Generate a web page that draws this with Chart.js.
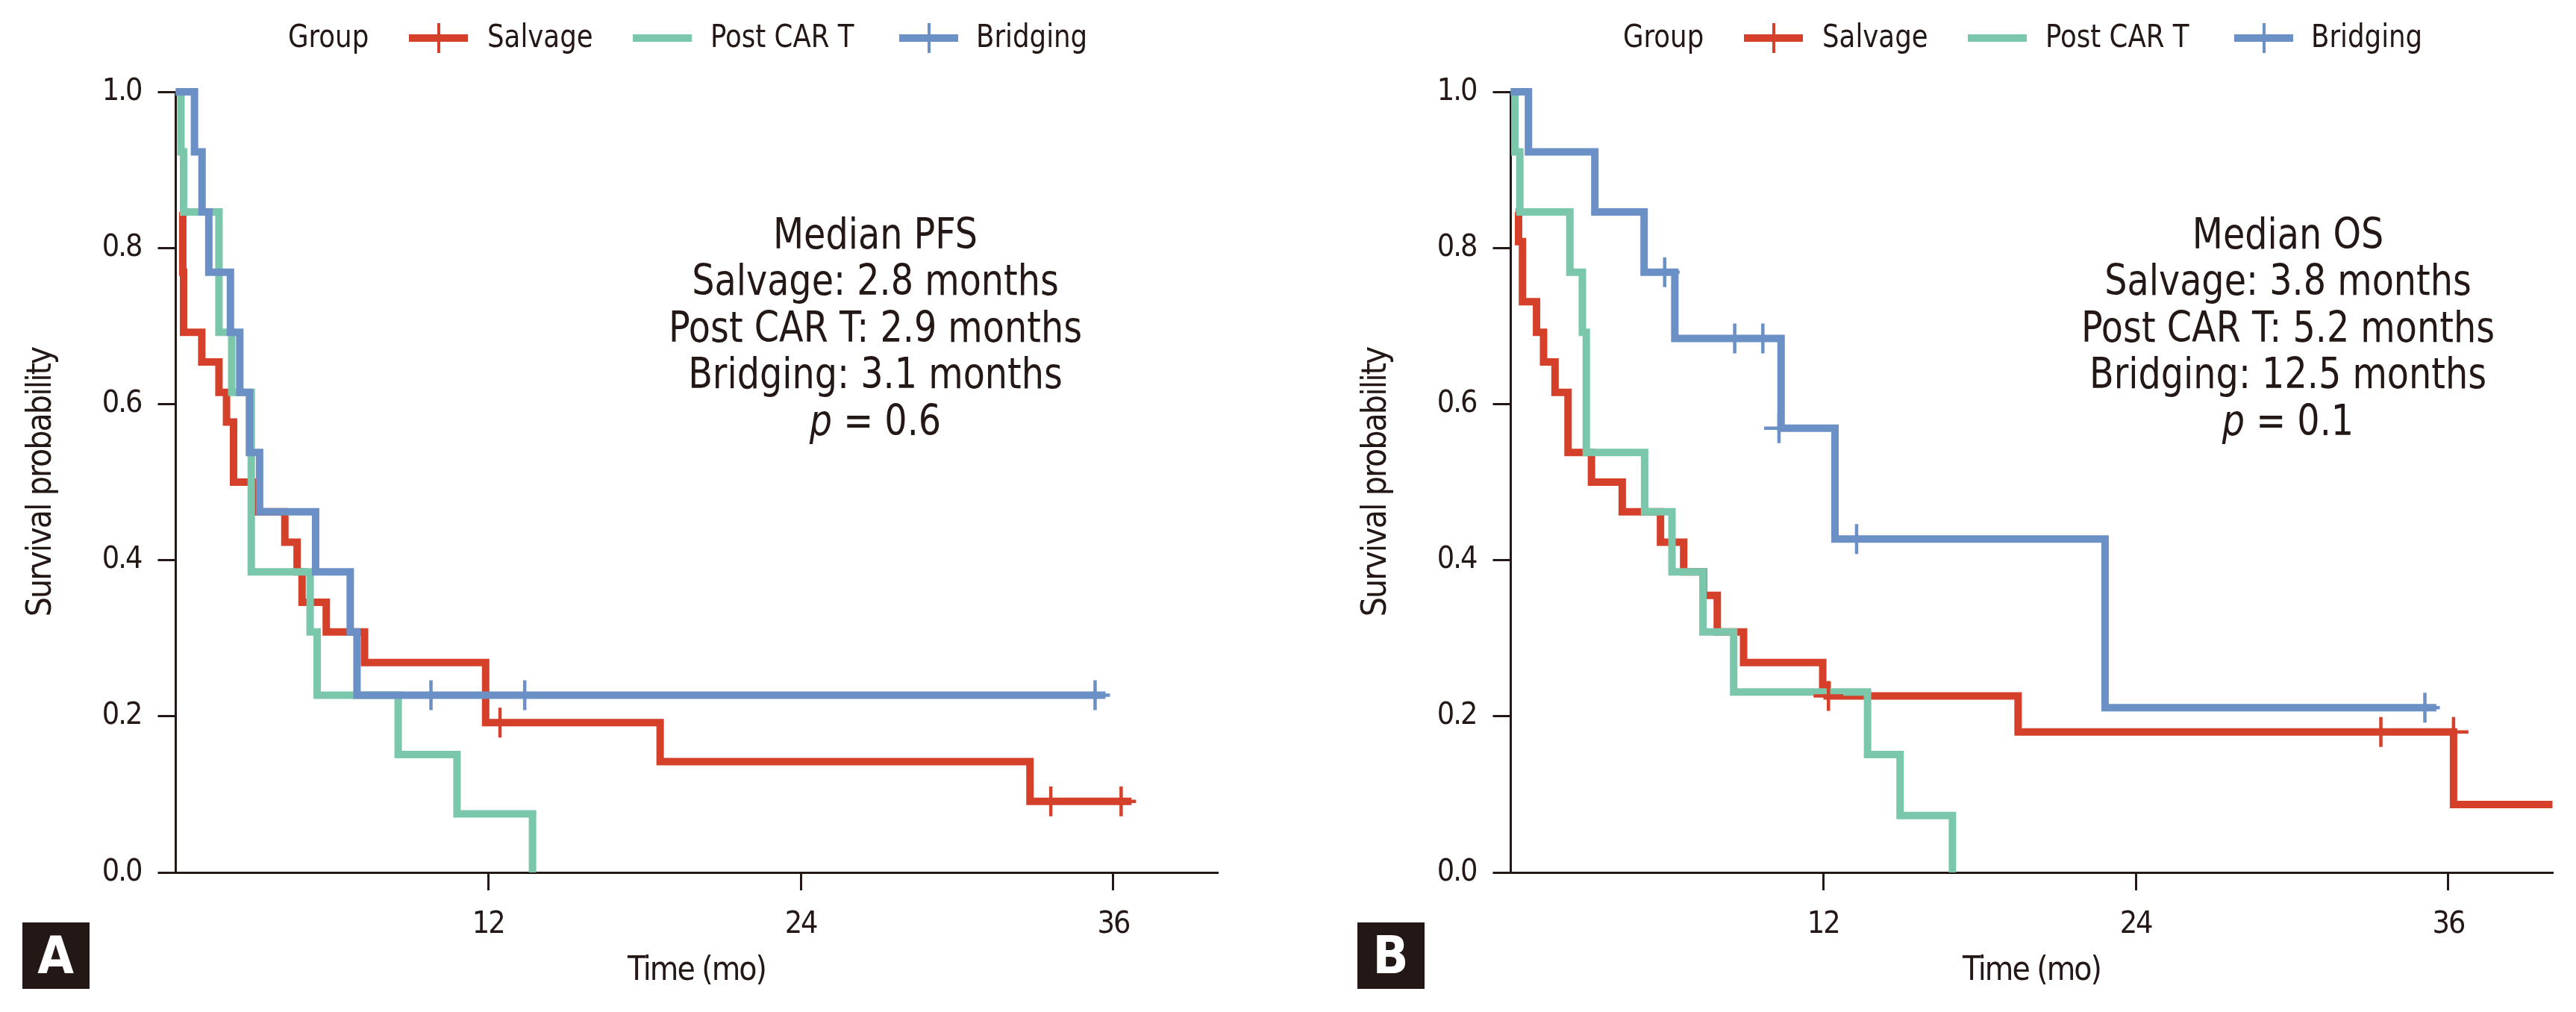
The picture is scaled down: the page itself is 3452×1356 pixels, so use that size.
<!DOCTYPE html>
<html>
<head>
<meta charset="utf-8">
<script src="https://cdn.jsdelivr.net/npm/chart.js@4.4.1/dist/chart.umd.min.js"></script>
<style>
html, body { margin: 0; padding: 0; background: #ffffff; }
#page { position: relative; width: 3452px; height: 1356px; overflow: hidden; background: #ffffff;
  font-family: "DejaVu Sans Condensed", "Liberation Sans Narrow", "Arial Narrow", sans-serif; color: #231815; }
.panel { position: absolute; top: 0; height: 1356px; }
.txt { position: absolute; white-space: nowrap; line-height: 1; }
.sw { position: absolute; }
.lab { position: absolute; background: #231815; color: #ffffff; font-weight: bold; text-align: center; }
</style>
</head>
<body>
<div id="page">
  <canvas id="chartA" class="panel" width="1700" height="1356" style="left:0px;width:1700px;height:1356px;"></canvas>
  <canvas id="chartB" class="panel" width="1663" height="1356" style="left:1789px;width:1663px;height:1356px;"></canvas>
</div>
<script>
// ---------- data ----------
const groups = ['Salvage', 'Post CAR T', 'Bridging'];
const xTicks = [12, 24, 36];
const yTicks = [0, 0.2, 0.4, 0.6, 0.8, 1.0];
const yTickLabels = ['0.0', '0.2', '0.4', '0.6', '0.8', '1.0'];

// Panel A: progression-free survival (time in months, survival probability)
const pfsSalvageTime = [0.25, 0.27, 0.3, 1.0, 1.66, 1.95, 2.22, 3.0, 4.19, 4.66, 4.85, 5.78, 7.25, 11.9, 18.6, 32.8, 36.7];
const pfsSalvageSurv = [0.846, 0.769, 0.692, 0.654, 0.615, 0.577, 0.5, 0.462, 0.423, 0.385, 0.346, 0.308, 0.269, 0.192, 0.142, 0.091, 0.091];
const pfsPostTime = [0, 0.2, 0.3, 1.66, 2.15, 2.9, 5.16, 5.43, 8.54, 10.8, 13.7];
const pfsPostSurv = [1.0, 0.923, 0.846, 0.692, 0.615, 0.385, 0.308, 0.227, 0.151, 0.075, 0.0];
const pfsBridgingTime = [0, 0.72, 1.01, 1.27, 2.1, 2.46, 2.83, 3.22, 5.37, 6.7, 6.96, 35.7];
const pfsBridgingSurv = [1.0, 0.923, 0.846, 0.769, 0.692, 0.615, 0.538, 0.462, 0.385, 0.308, 0.227, 0.227];
const pfsSalvageCensorTime = [12.45, 33.6, 36.3];
const pfsSalvageCensorSurv = [0.192, 0.091, 0.091];
const pfsBridgingCensorTime = [9.8, 13.4, 35.3];
const pfsBridgingCensorSurv = [0.227, 0.227, 0.227];

// Panel B: overall survival
const osSalvageTime = [0.19, 0.3, 0.45, 0.99, 1.26, 1.7, 2.2, 3.1, 4.28, 5.75, 6.64, 7.4, 7.93, 8.94, 11.98, 12.15, 19.48, 36.2, 40];
const osSalvageSurv = [0.846, 0.808, 0.731, 0.692, 0.654, 0.615, 0.538, 0.5, 0.462, 0.423, 0.385, 0.355, 0.308, 0.269, 0.24, 0.226, 0.18, 0.087, 0.087];
const osPostTime = [0, 0.16, 0.35, 2.27, 2.75, 2.9, 5.14, 6.19, 7.38, 8.56, 13.7, 14.95, 16.96];
const osPostSurv = [1.0, 0.923, 0.846, 0.769, 0.692, 0.538, 0.462, 0.385, 0.308, 0.231, 0.151, 0.073, 0.0];
const osBridgingTime = [0, 0.68, 3.23, 5.12, 6.3, 10.38, 12.45, 22.82, 35.54];
const osBridgingSurv = [1.0, 0.923, 0.846, 0.769, 0.684, 0.569, 0.427, 0.211, 0.211];
const osSalvageCensorTime = [12.2, 33.41, 36.2];
const osSalvageCensorSurv = [0.226, 0.18, 0.18];
const osBridgingCensorTime = [5.91, 8.6, 9.68, 10.3, 13.28, 35.1];
const osBridgingCensorSurv = [0.769, 0.684, 0.684, 0.569, 0.427, 0.211];

const pfsText = ['Median PFS', 'Salvage: 2.8 months', 'Post CAR T: 2.9 months', 'Bridging: 3.1 months', '<i>p</i> = 0.6'];
const osText = ['Median OS', 'Salvage: 3.8 months', 'Post CAR T: 5.2 months', 'Bridging: 12.5 months', '<i>p</i> = 0.1'];

// ---------- style ----------
const FONT = '"DejaVu Sans Condensed", "Liberation Sans Narrow", "Arial Narrow", sans-serif';
const INK = '#231815';
const COLORS = ['#D4402A', '#7AC7AC', '#6B90C6'];

function pts(t, s) { return t.map((x, i) => ({ x: x, y: s[i] })); }

const spacingPlugin = {
  id: 'spacing',
  beforeDraw(chart) { try { chart.ctx.letterSpacing = '-2px'; } catch (e) {} }
};

function makeChart(id, width, curves, censors) {
  const datasets = [];
  curves.forEach((c, i) => {
    datasets.push({
      label: groups[i], data: pts(c[0], c[1]), stepped: 'before',
      borderColor: COLORS[i], backgroundColor: COLORS[i], borderWidth: 10,
      pointRadius: 0, fill: false, clip: false, order: 6 - i,
      borderCapStyle: 'butt', borderJoinStyle: 'miter'
    });
  });
  censors.forEach((c) => {
    datasets.push({
      label: groups[c[0]] + ' censored', data: pts(c[1], c[2]), showLine: false,
      pointStyle: 'cross', pointRadius: 20, pointBorderWidth: 4.5,
      pointBorderColor: COLORS[c[0]], pointBackgroundColor: COLORS[c[0]],
      clip: false, order: 2 - c[0] / 2
    });
  });
  const axisCommon = {
    grid: { display: true, drawOnChartArea: false, drawTicks: true, tickLength: 24, lineWidth: 3, color: INK },
    border: { display: true, width: 3, color: INK }
  };
  return new Chart(document.getElementById(id), {
    type: 'line',
    data: { datasets: datasets },
    plugins: [spacingPlugin],
    options: {
      responsive: false, animation: false, devicePixelRatio: 1,
      layout: { padding: { left: 0, right: width - 1631.5, top: 123, bottom: 0 } },
      plugins: { legend: { display: false }, tooltip: { enabled: false } },
      scales: {
        x: Object.assign({}, axisCommon, {
          type: 'linear', min: 0, max: 40,
          afterBuildTicks: (s) => { s.ticks = xTicks.map(v => ({ value: v })); },
          afterFit: (s) => { s.height = 187; },
          ticks: { callback: (v) => String(v), font: { family: FONT, size: 41 }, color: INK, padding: 22, maxRotation: 0, autoSkip: false },
          title: { display: true, text: 'Time (mo)', font: { family: FONT, size: 44 }, color: INK, padding: { top: 0, bottom: 28 } }
        }),
        y: Object.assign({}, axisCommon, {
          type: 'linear', min: 0, max: 1,
          afterBuildTicks: (s) => { s.ticks = yTicks.map(v => ({ value: v })); },
          afterFit: (s) => { s.width = 235.5; },
          ticks: { callback: (v) => yTickLabels[yTicks.indexOf(v)] ?? v.toFixed(1), font: { family: FONT, size: 41 }, color: INK, padding: 22, autoSkip: false },
          title: { display: true, text: 'Survival probability', font: { family: FONT, size: 46 }, color: INK, padding: { top: 28, bottom: 0 } }
        })
      }
    }
  });
}

makeChart('chartA', 1700,
  [[pfsSalvageTime, pfsSalvageSurv], [pfsPostTime, pfsPostSurv], [pfsBridgingTime, pfsBridgingSurv]],
  [[0, pfsSalvageCensorTime, pfsSalvageCensorSurv], [2, pfsBridgingCensorTime, pfsBridgingCensorSurv]]);
makeChart('chartB', 1663,
  [[osSalvageTime, osSalvageSurv], [osPostTime, osPostSurv], [osBridgingTime, osBridgingSurv]],
  [[0, osSalvageCensorTime, osSalvageCensorSurv], [2, osBridgingCensorTime, osBridgingCensorSurv]]);

// ---------- overlays: legend, annotation, panel labels ----------
const page = document.getElementById('page');
function addText(html, left, baseline, size, opts) {
  opts = opts || {};
  const el = document.createElement('div');
  el.className = 'txt';
  el.innerHTML = html;
  el.style.fontSize = size + 'px';
  el.style.top = (baseline - 0.846 * size) + 'px';
  el.style.left = left + 'px';
  const sx = opts.sx != null ? opts.sx : 1;
  if (opts.center) { el.style.transformOrigin = '50% 50%'; el.style.transform = 'translateX(-50%) scaleX(' + sx + ')'; }
  else { el.style.transformOrigin = '0 50%'; el.style.transform = 'scaleX(' + sx + ')'; }
  page.appendChild(el);
  return el;
}
function addRect(x, y, w, h, color) {
  const el = document.createElement('div');
  el.className = 'sw';
  el.style.left = x + 'px'; el.style.top = y + 'px';
  el.style.width = w + 'px'; el.style.height = h + 'px';
  el.style.background = color;
  page.appendChild(el);
}
function legend(off) {
  addText('Group', off + 386, 63, 43, { sx: 0.92 });
  const keys = [[548, 653, true], [848, 952, false], [1205, 1308, true]];
  keys.forEach((k, i) => {
    addRect(off + k[0], 46, 79, 10, COLORS[i]);
    if (k[2]) addRect(off + k[0] + 37.5, 31, 4, 40, COLORS[i]);
    addText(groups[i], off + k[1], 63, 43, { sx: 0.92 });
  });
}
function annotation(lines, cx) {
  const base = [333, 395.5, 458, 520.5, 583];
  lines.forEach((l, i) => addText(l, cx, base[i], 57, { center: true, sx: 0.93 }));
}
function panelLabel(letter, x) {
  const el = document.createElement('div');
  el.className = 'lab';
  el.textContent = letter;
  el.style.left = x + 'px'; el.style.top = '1236px';
  el.style.width = '90px'; el.style.height = '89px';
  el.style.fontSize = '70px'; el.style.lineHeight = '89px';
  page.appendChild(el);
}
legend(0);
legend(1789);
annotation(pfsText, 1173);
annotation(osText, 3066);
panelLabel('A', 29.5);
panelLabel('B', 1818.5);
</script>
</body>
</html>
